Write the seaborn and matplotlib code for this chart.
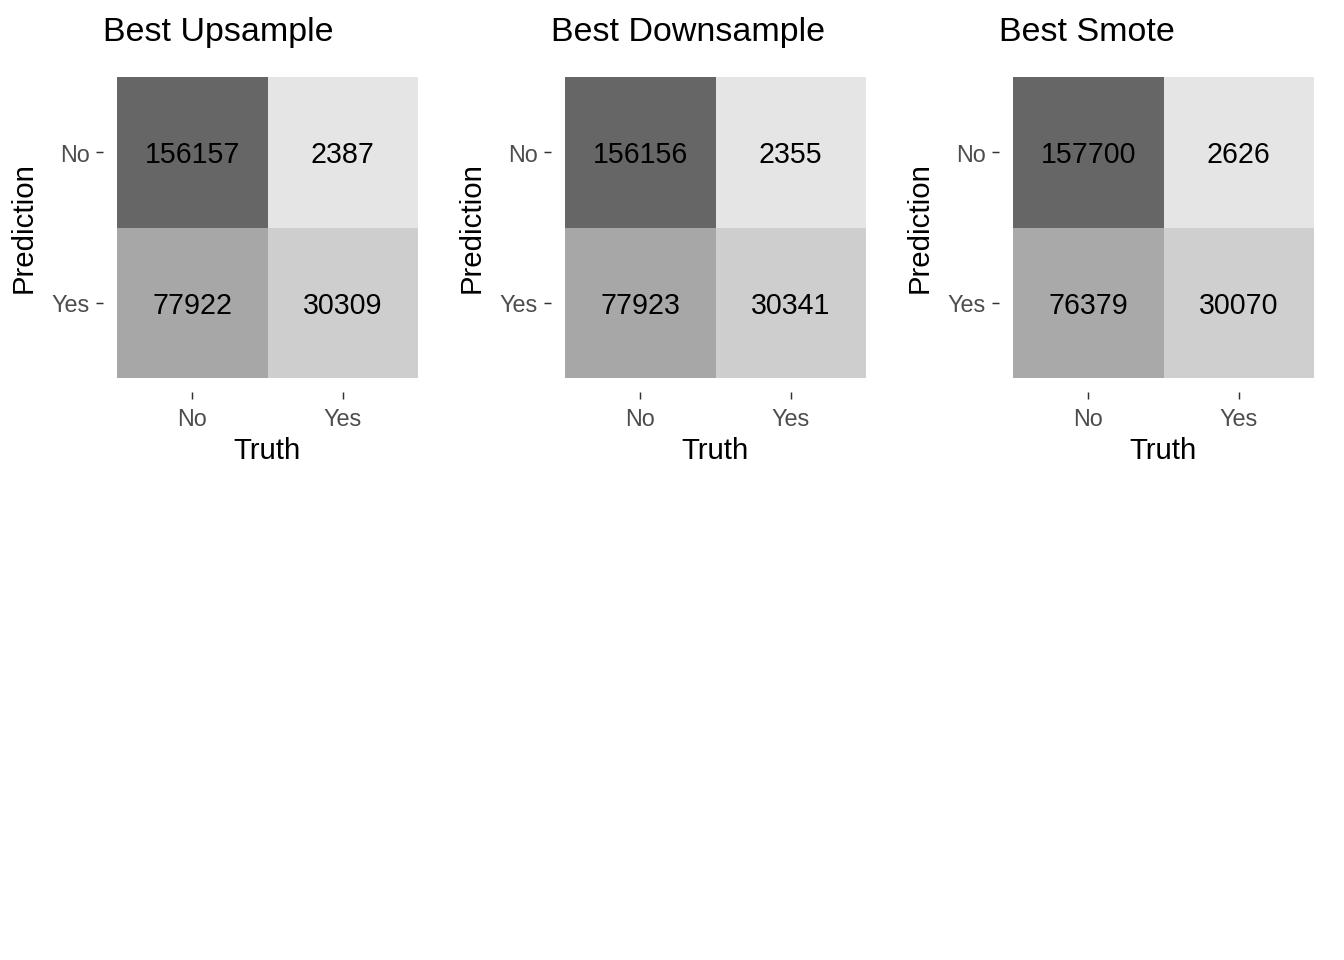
import numpy as np
import pandas as pd
import seaborn as sns
import matplotlib
matplotlib.use("Agg")
import matplotlib.pyplot as plt
from matplotlib.colors import LinearSegmentedColormap
from matplotlib.transforms import ScaledTranslation

titles = ["Best Upsample", "Best Downsample", "Best Smote"]
pred_labels = ["No", "Yes"]
truth_labels = ["No", "Yes"]
upsample = [[156157, 2387], [77922, 30309]]
downsample = [[156156, 2355], [77923, 30341]]
smote = [[157700, 2626], [76379, 30070]]
matrices = [upsample, downsample, smote]

sns.set_theme(style="white")
plt.rcParams['font.family'] = ['Liberation Sans', 'DejaVu Sans']

W, H = 1344, 960
fig = plt.figure(figsize=(W / 96, H / 96), dpi=96)
cmap = LinearSegmentedColormap.from_list("grays", ["#E5E5E5", "#666666"])

pad = 0.093
left_px = [103, 551, 999]
top_px, size_px = 63, 329

for i, (title, mat) in enumerate(zip(titles, matrices)):
    lp = left_px[i]
    ax = fig.add_axes([lp / W, 1 - (top_px + size_px) / H, size_px / W, size_px / H])
    df = pd.DataFrame(mat, index=pred_labels, columns=truth_labels)
    arr = np.array(mat)
    sns.heatmap(df, ax=ax, cmap=cmap, vmin=arr.min(), vmax=arr.max(), cbar=False,
                annot=True, fmt="d",
                annot_kws={"size": 21.5, "color": "black", "va": "center_baseline"})
    ax.set_xlim(-pad, 2 + pad)
    ax.set_ylim(2 + pad, -pad)
    for s in ax.spines.values():
        s.set_visible(False)
    ax.set_xlabel("")
    ax.set_ylabel("")
    ax.tick_params(axis="both", which="both", length=5.2, width=1.1, color="#333333",
                   labelsize=17.5, labelcolor="#4D4D4D", direction="out",
                   bottom=True, left=True, top=False, right=False)
    ax.tick_params(axis="x", pad=7)
    ax.tick_params(axis="y", pad=5)
    shift = ScaledTranslation(0, -3 / 96, fig.dpi_scale_trans)
    for lab in ax.get_yticklabels():
        lab.set_rotation(0)
        lab.set_transform(lab.get_transform() + shift)
    plt.setp(ax.get_xticklabels(), rotation=0)
    tile_l = lp + 14
    fig.text(lp / W, 1 - 41 / H, title, fontsize=25.5, ha="left", va="baseline", color="black")
    fig.text((tile_l + 150.5) / W, 1 - 459 / H, "Truth", fontsize=22, ha="center",
             va="baseline", color="black")
    fig.text((lp - 65) / W, 1 - 227.5 / H, "Prediction", fontsize=22, ha="right",
             va="center", rotation=90, color="black")

fig.savefig("out.png", dpi=96, facecolor="white")
